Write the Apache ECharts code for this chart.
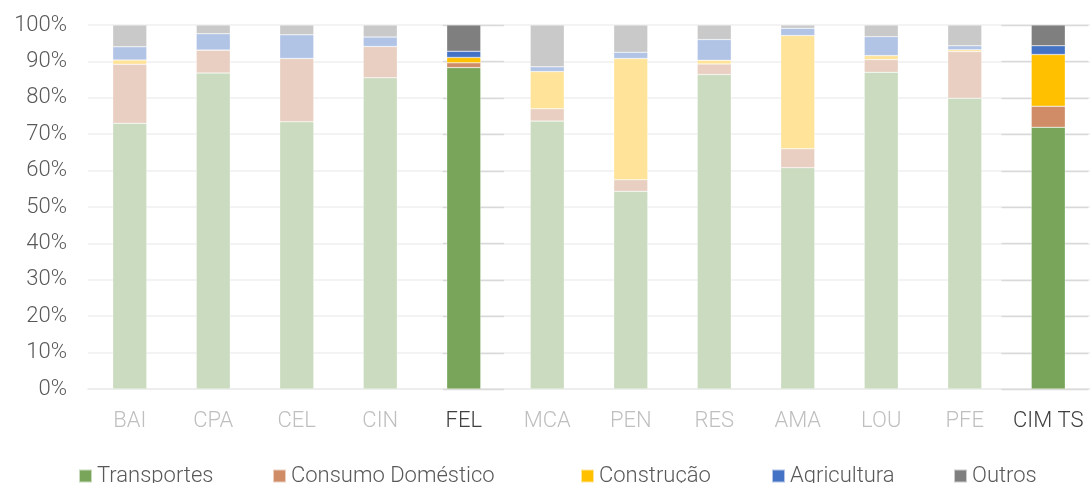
<!DOCTYPE html>
<html>
<head>
<meta charset="utf-8">
<script src="https://cdn.jsdelivr.net/npm/echarts@6/dist/echarts.min.js"></script>
<style>
  html, body { margin: 0; padding: 0; background: #fff; }
  #chart { width: 1090px; height: 483px; }
</style>
</head>
<body>
<div id="chart"></div>
<script>
// Municipalities and the regional total
const categories = ['BAI', 'CPA', 'CEL', 'CIN', 'FEL', 'MCA', 'PEN', 'RES', 'AMA', 'LOU', 'PFE', 'CIM TS'];
// Categories drawn in full colour
const highlighted = ['FEL', 'CIM TS'];

// Share of each sector (%)
const transportes      = [73.0, 86.8, 73.4, 85.5, 88.3, 73.6, 54.3, 86.4, 60.8, 87.0, 79.9, 71.9];
const consumoDomestico = [16.2,  6.3, 17.4,  8.6,  1.3,  3.4,  3.2,  2.9,  5.2,  3.5, 12.8,  5.8];
const construcao       = [ 1.2,  0.0,  0.0,  0.0,  1.5, 10.2, 33.3,  1.0, 31.1,  1.1,  0.5, 14.2];
const agricultura      = [ 3.6,  4.5,  6.5,  2.6,  1.7,  1.3,  1.7,  5.7,  2.0,  5.2,  1.1,  2.4];
const outros           = [ 6.0,  2.4,  2.7,  3.3,  7.2, 11.5,  7.5,  4.0,  0.9,  3.2,  5.7,  5.7];

const yTicks = [0, 10, 20, 30, 40, 50, 60, 70, 80, 90, 100];

const sectors = [
  { name: 'Transportes',       values: transportes,      full: '#78A55A', soft: '#CADBBF' },
  { name: 'Consumo Doméstico', values: consumoDomestico, full: '#CF8C66', soft: '#E9CFC1' },
  { name: 'Construção',        values: construcao,       full: '#FFC000', soft: '#FFE399' },
  { name: 'Agricultura',       values: agricultura,      full: '#4472C4', soft: '#B1C4E6' },
  { name: 'Outros',            values: outros,           full: '#7F7F7F', soft: '#C9C9C9' }
];

const FONT = 'Roboto, "Liberation Sans", Arial, sans-serif';
const FONT_SIZE = 22;

const barSeries = sectors.map(s => ({
  name: s.name,
  type: 'bar',
  stack: 'total',
  barWidth: 34,
  z: 3,
  itemStyle: { color: s.full, borderColor: 'rgba(255,255,255,0.6)', borderWidth: 0.5 },
  data: s.values.map((v, i) => ({
    value: v,
    itemStyle: { color: highlighted.includes(categories[i]) ? s.full : s.soft }
  }))
}));

// Darker gridline segments behind the highlighted columns
const gridAccent = {
  type: 'custom',
  silent: true,
  z: 1,
  encode: { x: 0, y: 1 },
  data: categories
    .map((c, i) => [i, 0])
    .filter(d => highlighted.includes(categories[d[0]])),
  renderItem: function (params, api) {
    const idx = api.value(0);
    const band = api.size([1, 0])[0];
    const last = idx === categories.length - 1;
    const children = yTicks.map(t => {
      const p = api.coord([idx, t]);
      const x1 = last ? p[0] - band * 0.56 : p[0] - band * 0.25;
      const x2 = p[0] + band * 0.48;
      const y = Math.round(p[1]) + 0.5;
      return {
        type: 'line',
        shape: { x1: x1, y1: y, x2: x2, y2: y },
        style: { stroke: '#D9D9D9', lineWidth: 1.6 }
      };
    });
    return { type: 'group', children: children };
  }
};

// One legend block per sector so each entry sits at its own offset
const legendLeft = [73, 267, 575, 766, 948];
const legends = sectors.map((s, i) => ({
  data: [s.name],
  left: legendLeft[i],
  top: 460,
  itemWidth: 13,
  itemHeight: 13,
  icon: 'rect',
  textStyle: { fontFamily: FONT, fontSize: FONT_SIZE, color: '#595959', fontWeight: 300 }
}));

const chart = echarts.init(document.getElementById('chart'), null, { renderer: 'canvas' });
chart.setOption({
  animation: false,
  textStyle: { fontFamily: FONT },
  grid: { left: 88, right: -11, top: 25, bottom: 94, containLabel: false },
  legend: legends,
  xAxis: {
    type: 'category',
    data: categories,
    axisLine: { lineStyle: { color: '#EBEBEB', width: 1.6 } },
    axisTick: { show: false },
    axisLabel: {
      interval: 0,
      hideOverlap: false,
      margin: 21,
      fontSize: FONT_SIZE,
      fontFamily: FONT,
      fontWeight: 300,
      color: function (val) { return highlighted.includes(val) ? '#404040' : '#BFBFBF'; }
    }
  },
  yAxis: {
    type: 'value',
    min: 0,
    max: 100,
    interval: 10,
    axisLine: { show: false },
    axisTick: { show: false },
    splitLine: { lineStyle: { color: '#EFEFEF', width: 1.6 } },
    axisLabel: {
      margin: 21,
      fontSize: FONT_SIZE,
      fontFamily: FONT,
      fontWeight: 300,
      color: '#595959',
      formatter: '{value}%'
    }
  },
  series: [gridAccent].concat(barSeries)
});
</script>
</body>
</html>
